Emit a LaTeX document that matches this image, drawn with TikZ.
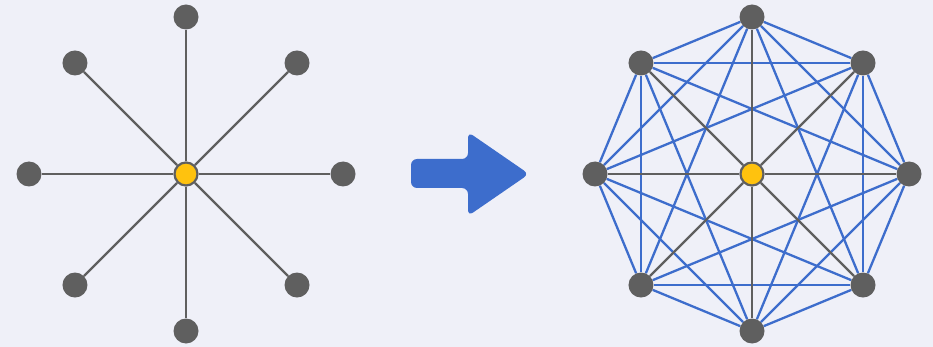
\documentclass[tikz,border=0pt]{standalone}
\usetikzlibrary{positioning}
\definecolor{bg}{HTML}{EFF0F8}
\definecolor{dot}{HTML}{5F5F5F}
\definecolor{hubfill}{HTML}{FFC20E}
\definecolor{link}{HTML}{3D6DCC}
\pgfdeclarelayer{back}
\pgfdeclarelayer{links}
\pgfsetlayers{back,links,main}
\tikzset{
    %Define standard arrow tip
    >=stealth,
}
\begin{document}
\begin{tikzpicture}[x=1pt, y=-1pt,
    dt/.style = {circle, fill=dot, minimum size=25, inner sep=0pt},
    hb/.style = {circle, fill=hubfill, draw=dot, line width=2.2pt,
                 minimum size=23, inner sep=0pt},
    sp/.style = {draw=dot, line width=2.3pt},
    ln/.style = {draw=link, line width=2.3pt},
  ]
  \begin{pgfonlayer}{back}
    \fill[bg] (0,0) rectangle (933,347);
  \end{pgfonlayer}
  % star
  \node[hb] (hubL) at (186,174) {};
  \foreach \i in {1,...,8}{
    \pgfmathsetmacro{\a}{-90+45*(\i-1)}
    \node[dt] (l\i) at ([shift={(\a:157)}]186,174) {};
    \draw[sp] (hubL) -- (l\i);
  }
  % arrow
  \fill[link, rounded corners=6pt] (411,159) -- (468,159) -- (468,132)
    -- (529,174) -- (468,216) -- (468,188) -- (411,188) -- cycle;
  % full mesh
  \node[hb] (hubR) at (752,174) {};
  \foreach \i in {1,...,8}{
    \pgfmathsetmacro{\a}{-90+45*(\i-1)}
    \node[dt] (r\i) at ([shift={(\a:157)}]752,174) {};
    \draw[sp] (hubR) -- (r\i);
  }
  \begin{pgfonlayer}{links}
    \foreach \i in {1,...,7}{
      \pgfmathtruncatemacro{\k}{\i+1}
      \foreach \j in {\k,...,8}{
        \pgfmathtruncatemacro{\d}{\j-\i}
        \ifnum\d=4\else\draw[ln] (r\i) -- (r\j);\fi
      }
    }
  \end{pgfonlayer}
\end{tikzpicture}
\end{document}
